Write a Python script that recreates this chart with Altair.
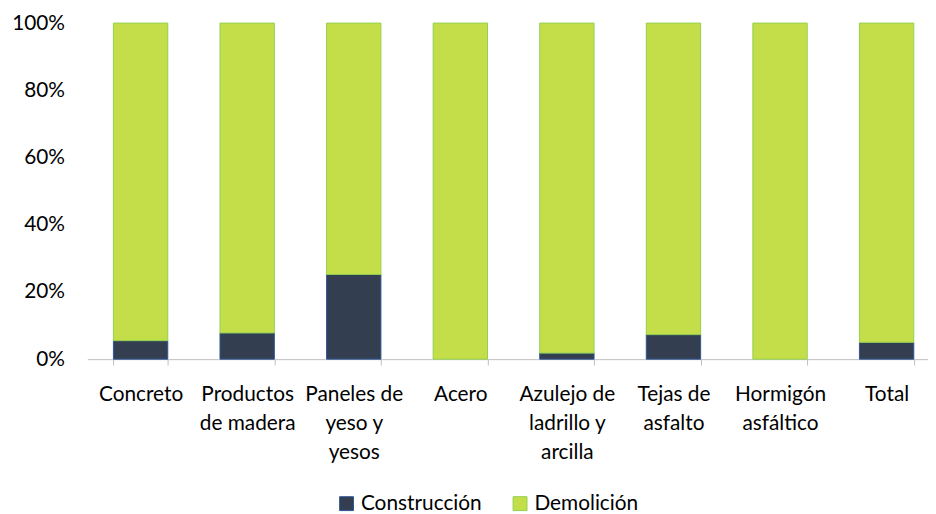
import altair as alt
import pandas as pd

categories = [
    "Concreto",
    "Productos|de madera",
    "Paneles de|yeso y|yesos",
    "Acero",
    "Azulejo de|ladrillo y|arcilla",
    "Tejas de|asfalto",
    "Hormigón|asfáltico",
    "Total",
]
construccion = [5.5, 7.8, 25.2, 0.0, 1.8, 7.3, 0.0, 5.0]
demolicion = [94.5, 92.2, 74.8, 100.0, 98.2, 92.7, 100.0, 95.0]
series = ["Construcción", "Demolición"]
fill_colors = ["#333f50", "#c4de4a"]
stroke_colors = ["#2f5597", "#92d050"]

rows = []
for i, c in enumerate(categories):
    rows.append({"cat": c, "serie": series[0], "v": construccion[i], "o": 0})
    rows.append({"cat": c, "serie": series[1], "v": demolicion[i], "o": 1})
df = pd.DataFrame(rows)

FONT = "Lato"
FS = 21

legend_kw = dict(
    title=None,
    orient="none",
    legendX=251,
    legendY=474,
    direction="horizontal",
    symbolType="square",
    symbolSize=196,
    symbolStrokeWidth=1,
    labelFont=FONT,
    labelFontSize=FS,
    labelColor="#000000",
    labelOffset=4,
    columnPadding=28,
)

chart = (
    alt.Chart(df)
    .transform_filter("datum.v > 0")
    .mark_bar(strokeWidth=1)
    .encode(
        x=alt.X(
            "cat:N",
            sort=categories,
            scale=alt.Scale(range=[0, 860], paddingInner=0.49, paddingOuter=0.245),
            axis=alt.Axis(
                title=None,
                labelAngle=0,
                labelExpr="split(datum.label, '|')",
                labelFont=FONT,
                labelFontSize=FS,
                labelColor="#000000",
                labelLineHeight=29,
                labelPadding=19,
                tickBand="extent",
                tickSize=6,
                tickColor="#bfbfbf",
                domainColor="#bfbfbf",
                labelLimit=200,
            ),
        ),
        y=alt.Y(
            "v:Q",
            stack="zero",
            scale=alt.Scale(domain=[0, 100], nice=False),
            axis=alt.Axis(
                title=None,
                values=[0, 20, 40, 60, 80, 100],
                labelExpr="datum.value + '%'",
                labelFont=FONT,
                labelFontSize=FS,
                labelColor="#000000",
                labelPadding=23,
                ticks=False,
                tickSize=0,
                domain=False,
                grid=False,
            ),
        ),
        color=alt.Color(
            "serie:N",
            scale=alt.Scale(domain=series, range=fill_colors),
            legend=alt.Legend(**legend_kw),
        ),
        stroke=alt.Stroke(
            "serie:N",
            scale=alt.Scale(domain=series, range=stroke_colors),
            legend=alt.Legend(**legend_kw),
        ),
        order=alt.Order("o:Q"),
    )
    .properties(
        width=848,
        height=339,
        autosize=alt.AutoSizeParams(type="none"),
        padding={"left": 80, "top": 13, "right": 0, "bottom": 154},
    )
    .configure_view(stroke=None)
)

chart.save("out.html", embed_options={"renderer": "svg", "actions": False})
